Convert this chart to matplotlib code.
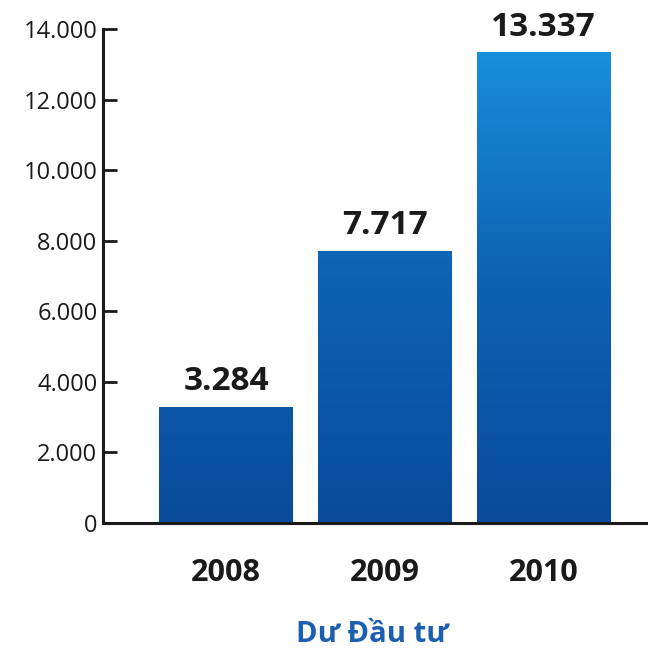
import numpy as np
import matplotlib.pyplot as plt
from matplotlib.colors import LinearSegmentedColormap

# Dư đầu tư theo năm
nam = ['2008', '2009', '2010']
du_dau_tu = [3284, 7717, 13337]
nhan_gia_tri = ['3.284', '7.717', '13.337']
moc_truc_y = [0, 2000, 4000, 6000, 8000, 10000, 12000, 14000]
nhan_truc_y = ['0', '2.000', '4.000', '6.000', '8.000', '10.000', '12.000', '14.000']

plt.rcParams['font.family'] = ['Open Sans', 'DejaVu Sans']

fig = plt.figure(figsize=(6.48, 6.49), dpi=100)
ax = fig.add_axes([103 / 648, 126 / 649, 545 / 648, 494 / 649])

vi_tri = np.arange(len(nam))
cot = ax.bar(vi_tri, du_dau_tu, width=0.84, color='none', edgecolor='none', zorder=2)

# to màu chuyển sắc theo chiều dọc, đậm ở dưới, sáng ở trên
cmap = LinearSegmentedColormap.from_list('xanh', ['#0a4b9b', '#0d62b3', '#1a93de'])
gradient = np.linspace(0, 1, 256).reshape(-1, 1)
x_min, x_max = -0.776, 2.66
for c in cot:
    im = ax.imshow(gradient, cmap=cmap, origin='lower', aspect='auto',
                   extent=(x_min, x_max, 0, 14000), zorder=2)
    im.set_clip_path(c)

for x, v, nhan in zip(vi_tri, du_dau_tu, nhan_gia_tri):
    ax.text(x, v + 250, nhan, ha='center', va='bottom', fontsize=24,
            fontweight='bold', color='#1a1a1a')

ax.set_xlim(x_min, x_max)
ax.set_ylim(0, 14000)
ax.set_yticks(moc_truc_y)
ax.set_yticklabels(nhan_truc_y, fontsize=17, color='#1a1a1a')
ax.set_xticks(vi_tri)
ax.set_xticklabels(nam, fontsize=22, fontweight='bold', color='#1a1a1a')
ax.tick_params(axis='x', length=0, pad=25)
ax.tick_params(axis='y', direction='in', length=10, width=2, color='#1a1a1a', pad=4)

for s in ['top', 'right']:
    ax.spines[s].set_visible(False)
for s in ['left', 'bottom']:
    ax.spines[s].set_linewidth(2.2)
    ax.spines[s].set_color('#1a1a1a')

fig.text(372 / 648, 1 - 634 / 649, 'Dư Đầu tư', ha='center', va='center',
         fontsize=21, fontweight='bold', color='#1c5fb0')

fig.savefig('out.png', dpi=100)
